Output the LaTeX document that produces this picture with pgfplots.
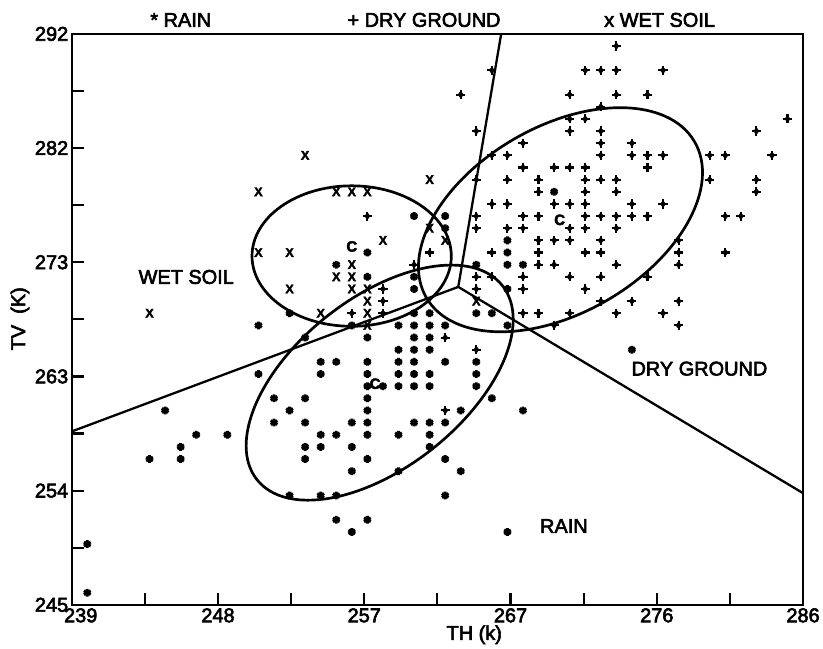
\documentclass[border=0pt]{standalone}
\usepackage{fontspec}
\setmainfont{Liberation Sans}[FakeBold=3]
\usepackage{pgfplots}
\usepackage{pgfplotstable}
\pgfplotsset{compat=1.18}
\newcommand\lab{\fontsize{20}{24}\selectfont}

\pgfplotstableread{
x y
240 250
240 246
244 257
245 261
246 258
246 257
247 259
249 259
251 268
251 264
252 262
252 260
253 269
253 261
253 254
254 267
254 262
254 260
254 258
254 257
255 265
255 264
255 259
255 258
255 254
256 273
256 265
256 259
256 254
256 252
257 268
257 260
257 258
257 256
257 251
258 274
258 272
258 267
258 265
258 264
258 263
258 262
258 261
258 260
258 259
258 257
258 252
259 263
260 268
260 266
260 265
260 264
260 263
260 259
260 256
261 277
261 272
261 271
261 269
261 268
261 267
261 266
261 265
261 264
261 263
261 260
262 269
262 268
262 267
262 266
262 264
262 263
262 260
262 259
262 258
263 277
263 276
263 268
263 265
263 260
263 257
263 254
264 261
264 256
265 273
265 269
265 265
265 264
265 263
266 269
266 262
267 275
267 274
267 273
267 271
267 268
267 251
268 273
268 261
270 279
275 266
}\rain

\pgfplotstableread{
x y
274 291
266 289
272 289
273 289
274 289
277 289
264 287
271 287
274 287
276 287
273 286
271 285
272 285
285 285
265 284
271 284
273 284
283 284
268 283
273 283
275 283
266 282
267 282
273 282
275 282
276 282
277 282
280 282
281 282
284 282
268 281
270 281
271 281
272 281
276 281
265 280
267 280
269 280
272 280
273 280
274 280
280 280
283 280
269 279
272 279
274 279
283 279
266 278
267 278
270 278
271 278
272 278
275 278
277 278
258 277
265 277
268 277
269 277
272 277
273 277
274 277
275 277
276 277
281 277
282 277
265 276
267 276
268 276
271 276
272 276
274 276
269 275
270 275
271 275
273 275
278 275
262 274
266 274
269 274
272 274
273 274
278 274
281 274
261 273
269 273
270 273
274 273
278 273
265 272
266 272
268 272
271 272
273 272
276 272
259 271
265 271
268 271
272 271
259 270
273 270
275 270
278 270
257 269
259 269
268 269
269 269
271 269
274 269
277 269
270 268
278 268
263 267
265 266
263 261
}\dry

\pgfplotstableread{
x y
244 269
251 279
251 274
253 274
253 271
254 282
255 269
256 279
257 279
258 279
256 272
257 273
257 272
257 271
258 271
258 270
258 269
258 268
259 275
262 280
262 276
263 275
265 270
}\wet

\begin{document}
\begin{tikzpicture}
\begin{axis}[
  scale only axis, width=734pt, height=573pt,
  xmin=239, xmax=286, ymin=245, ymax=292,
  axis line style={line width=2.3pt},
  xtick={239,243.7,248.4,253.1,257.8,262.5,267.2,271.9,276.6,281.3,286},
  xticklabels={\hspace*{18pt}239,,248,,257,,267,,276,,286},
  ytick={245,249.7,254.4,259.1,263.8,268.5,273.2,277.9,282.6,287.3,292},
  yticklabels={245,,254,,263,,273,,282,,292},
  tick align=inside, tick pos=left,
  major tick length=12pt,
  tick style={line width=2.2pt, black},
  ticklabel style={font=\lab},
  /pgf/number format/assume math mode=true,
  clip=false,
]
\path (axis cs:234.39,241.39) rectangle (axis cs:287.09,294.79);

\addplot[line width=2.3pt, no marks] coordinates {(266.6,292) (263.84,271.17) (239,259.27)};
\addplot[line width=2.3pt, no marks] coordinates {(263.84,271.17) (286,254.19)};

\draw[line width=2.7pt] (axis cs:256.99,273.71) ellipse [x radius=100pt, y radius=70.5pt];
\draw[line width=2.7pt, rotate around={38.3:(axis cs:258.79,263.29)}] (axis cs:258.79,263.29) ellipse [x radius=157pt, y radius=85pt];
\draw[line width=2.7pt, rotate around={30.2:(axis cs:270.41,276.70)}] (axis cs:270.41,276.70) ellipse [x radius=155.7pt, y radius=93.4pt];

\addplot[only marks, mark=asterisk, mark size=3.9pt, line width=2.9pt, black] table {\rain};
\addplot[only marks, mark=+, mark size=4.6pt, line width=2.1pt, black] table {\dry};
\addplot[only marks, mark=diamond*, mark size=3.5pt, mark options={fill=black, draw=black}, black] table {\dry};
\addplot[only marks, mark=text, text mark={\fontsize{12.5}{12.5}\selectfont\bfseries X}, black] table {\wet};

\node[font=\fontsize{15}{15}\selectfont\bfseries] at (axis cs:257.0,274.5) {C};
\node[font=\fontsize{15}{15}\selectfont\bfseries] at (axis cs:258.5,263.2) {C};
\node[font=\fontsize{15}{15}\selectfont\bfseries] at (axis cs:270.36,276.69) {C};

\node[font=\lab] at (axis cs:246.36,271.99) {WET SOIL};
\node[font=\lab] at (axis cs:279.34,264.44) {DRY GROUND};
\node[font=\lab] at (axis cs:270.63,251.48) {RAIN};

\node[font=\lab] at (axis cs:246.01,293.15) {* RAIN};
\node[font=\lab] at (axis cs:261.64,293.15) {+ DRY GROUND};
\node[font=\lab] at (axis cs:276.78,293.15) {x WET SOIL};

\node[font=\lab] at (rel axis cs:0.5504,-0.0524) {TH (k)};
\node[font=\lab, rotate=90] at (rel axis cs:-0.0708,0.5009) {TV\ \ (K)};
\end{axis}
\end{tikzpicture}
\end{document}
